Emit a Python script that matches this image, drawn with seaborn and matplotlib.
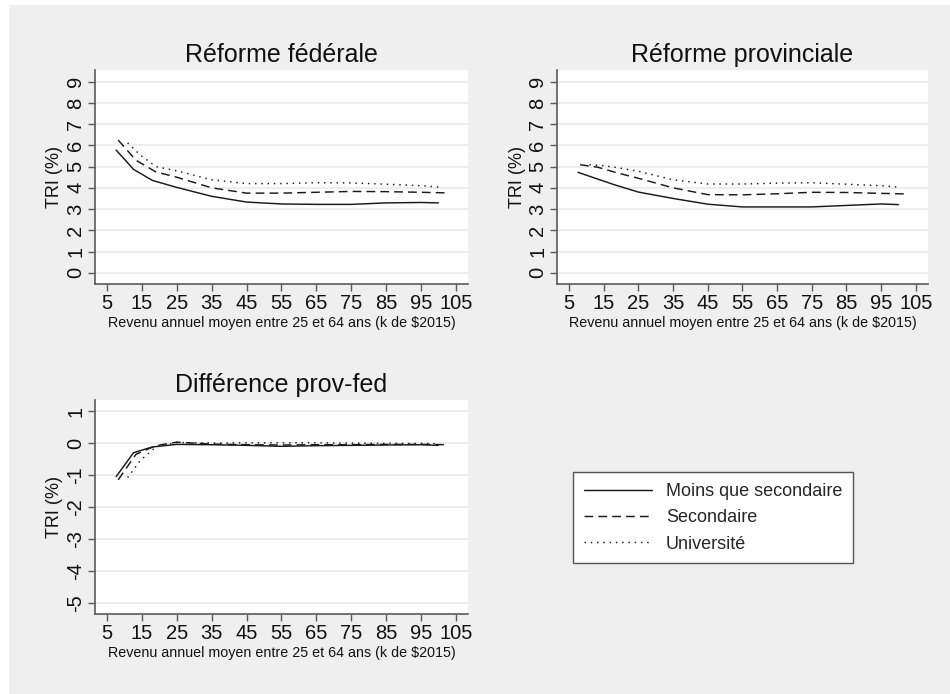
import matplotlib
matplotlib.use("Agg")
import matplotlib.pyplot as plt
import matplotlib.patches as mpatches
from matplotlib.lines import Line2D
import seaborn as sns
import pandas as pd

# ---------------- data ----------------
series_names = ["Moins que secondaire", "Secondaire", "Université"]

x_moins = [7.6, 12.6, 18, 25, 35, 45, 55, 65, 75, 85, 95, 100]
x_sec = [8.2, 13.3, 19, 25, 35, 45, 55, 65, 75, 85, 95, 102.7]
x_univ = [10.9, 14.5, 19, 25, 35, 45, 55, 65, 75, 85, 95, 100]

fed_moins = [5.78, 4.87, 4.35, 4.02, 3.60, 3.33, 3.24, 3.22, 3.22, 3.29, 3.31, 3.29]
fed_sec = [6.25, 5.30, 4.75, 4.50, 4.00, 3.75, 3.75, 3.79, 3.83, 3.82, 3.79, 3.76]
fed_univ = [6.12, 5.55, 5.00, 4.80, 4.38, 4.20, 4.20, 4.24, 4.23, 4.17, 4.10, 4.04]

prov_moins = [4.73, 4.45, 4.15, 3.80, 3.50, 3.23, 3.10, 3.10, 3.10, 3.17, 3.24, 3.21]
prov_sec = [5.09, 4.97, 4.70, 4.45, 4.00, 3.68, 3.67, 3.72, 3.79, 3.78, 3.74, 3.71]
prov_univ = [5.09, 5.05, 4.95, 4.78, 4.38, 4.18, 4.18, 4.22, 4.24, 4.17, 4.10, 4.03]

diff_moins = [-1.05, -0.30, -0.12, -0.04, -0.05, -0.07, -0.10, -0.08, -0.07, -0.06, -0.05, -0.07]
diff_sec = [-1.15, -0.35, -0.08, 0.03, -0.03, -0.05, -0.06, -0.05, -0.05, -0.04, -0.04, -0.05]
diff_univ = [-1.08, -0.55, -0.12, 0.02, 0.00, 0.01, 0.01, 0.01, 0.00, -0.01, -0.01, -0.02]

x_ticks = [5, 15, 25, 35, 45, 55, 65, 75, 85, 95, 105]
y_ticks_top = [0, 1, 2, 3, 4, 5, 6, 7, 8, 9]
y_ticks_diff = [-5, -4, -3, -2, -1, 0, 1]

titles = ["Réforme fédérale", "Réforme provinciale", "Différence prov-fed"]
x_label = "Revenu annuel moyen entre 25 et 64 ans (k de $2015)"
y_label = "TRI (%)"

# ---------------- style ----------------
sns.set_theme(style="white")
plt.rcParams["font.family"] = ["Liberation Sans", "DejaVu Sans"]

line_color = "#1a1a1a"
styles = [
    dict(linestyle="-"),
    dict(linestyle=(0, (6, 3.5))),
    dict(linestyle=(0, (1, 3.3))),
]
xs = [x_moins, x_sec, x_univ]

fig = plt.figure(figsize=(9.5, 6.94), dpi=100)
fig.patch.set_facecolor("white")
bg = mpatches.Rectangle((9 / 950, 0), 1 - 9 / 950, 1 - 5 / 694,
                        transform=fig.transFigure, facecolor="#efefef",
                        edgecolor="none", zorder=-10)
fig.patches.append(bg)

W, H = 950, 694


def axes_rect(left, right, top, bottom):
    return [left / W, 1 - bottom / H, (right - left) / W, (bottom - top) / H]


ax1 = fig.add_axes(axes_rect(95, 468, 70, 284))
ax2 = fig.add_axes(axes_rect(557, 928, 70, 284))
ax3 = fig.add_axes(axes_rect(95, 468, 400, 614))

panels = [
    (ax1, [fed_moins, fed_sec, fed_univ], (-0.53, 9.55), y_ticks_top, titles[0]),
    (ax2, [prov_moins, prov_sec, prov_univ], (-0.53, 9.55), y_ticks_top, titles[1]),
    (ax3, [diff_moins, diff_sec, diff_univ], (-5.35, 1.35), y_ticks_diff, titles[2]),
]

for ax, ys, ylim, yt, title in panels:
    ax.set_facecolor("white")
    for xv, yv, st, name in zip(xs, ys, styles, series_names):
        df = pd.DataFrame({"x": xv, "y": yv})
        sns.lineplot(data=df, x="x", y="y", ax=ax, color=line_color,
                     linewidth=1.05, sort=False, estimator=None, **st)
    ax.set_xlim(1.55, 108.5)
    ax.set_ylim(*ylim)
    ax.set_xticks(x_ticks)
    ax.set_yticks(yt)
    ax.set_xticklabels([str(v) for v in x_ticks], fontsize=14.5)
    ax.set_yticklabels([str(v) for v in yt], fontsize=14.5, rotation=90, va="center")
    ax.grid(axis="y", color="#e8e8e8", linewidth=1.1)
    ax.grid(axis="x", visible=False)
    ax.set_axisbelow(True)
    for s in ["top", "right"]:
        ax.spines[s].set_visible(False)
    for s in ["left", "bottom"]:
        ax.spines[s].set_color("#5a5a5a")
        ax.spines[s].set_linewidth(1.2)
    ax.tick_params(axis="both", which="major", direction="out", length=5,
                   width=1.0, color="#5a5a5a", labelcolor="#111111", pad=2,
                   left=True, bottom=True)
    ax.set_xlabel(x_label, fontsize=10.3, labelpad=2, color="#111111")
    ax.set_ylabel(y_label, fontsize=13, labelpad=2, color="#111111")
    ax.set_title(title, fontsize=18, pad=6, color="#111111")

handles = [Line2D([], [], color=line_color, linewidth=1.05, **st) for st in styles]
leg = fig.legend(handles, series_names, loc="upper left",
                 bbox_to_anchor=(573 / W, 1 - 472 / H), fontsize=13,
                 frameon=True, fancybox=False, handlelength=3.8,
                 handletextpad=0.75, borderpad=0.6, labelspacing=0.52,
                 borderaxespad=0)
leg.get_frame().set_edgecolor("#555555")
leg.get_frame().set_linewidth(1.0)
leg.get_frame().set_facecolor("white")
leg.get_frame().set_alpha(1)

fig.savefig("out.png", dpi=100)
